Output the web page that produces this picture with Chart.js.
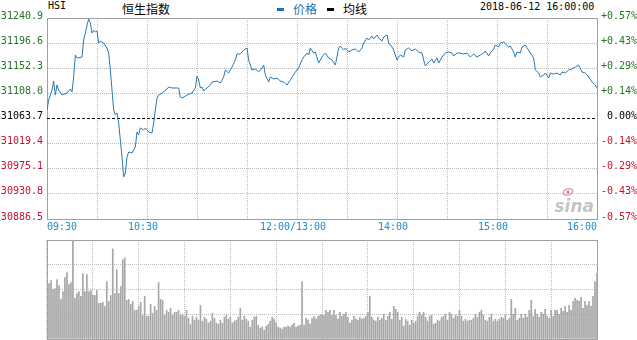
<!DOCTYPE html>
<html><head><meta charset="utf-8">
<script src="https://cdn.jsdelivr.net/npm/chart.js@4/dist/chart.umd.min.js"></script>
<style>
html,body{margin:0;padding:0;background:#fff;width:637px;height:340px;overflow:hidden;}
#wrap{position:relative;width:637px;height:340px;}
canvas{position:absolute;left:0;}
.t{position:absolute;white-space:nowrap;line-height:1;}
.mono{font-family:"DejaVu Sans Mono","Liberation Mono",monospace;font-size:10px;}
.cjk{font-family:"Noto Sans CJK SC",sans-serif;font-size:12px;}
</style></head><body>
<div id="wrap">
  <div class="t mono" style="left:48px;top:1px;color:#000">HSI</div>
  <div class="t cjk" style="left:122px;top:3px;color:#000">恒生指数</div>
  <div style="position:absolute;left:277px;top:8px;width:7px;height:3px;background:#1e6fb5"></div>
  <div class="t cjk" style="left:293px;top:3px;color:#1e6fb5">价格</div>
  <div style="position:absolute;left:327px;top:8px;width:7px;height:3px;background:#000"></div>
  <div class="t cjk" style="left:343px;top:3px;color:#000">均线</div>
  <div class="t mono" style="left:480px;top:2px;color:#000">2018-06-12 16:00:00</div>
  <canvas id="c1" width="637" height="236" style="top:0"></canvas>
  <canvas id="c2" width="637" height="104" style="top:236px"></canvas>
</div>
<script>
// ---- data ----
const prevClose = 31063.7;
const yTicks = [31240.9, 31196.6, 31152.3, 31108.0, 31063.7, 31019.4, 30975.1, 30930.8, 30886.5];
const gridMinutes = [0, 30, 60, 90, 120, 150, 180, 210, 240, 270, 300, 330];
const xLabelMinutes = [0, 60, 150, 210, 270, 330];
const xLabels = ['09:30', '10:30', '12:00/13:00', '14:00', '15:00', '16:00'];

const minutes = [0,1,3,4,5,6,7,9,12,14,15,16,17,18,21,22,23,24,25,26,27,28,29,30,31,32,34,36,37,38,39,40,41,42,43,44,45,46,47,48,49,51,53,54,55,56,58,59,61,63,64,65,66,67,69,72,73,75,79,80,81,84,87,89,90,91,92,93,94,96,98,99,102,104,106,107,109,111,113,114,116,118,120,121,123,125,127,129,130,131,133,134,136,138,140,142,144,146,149,151,153,154,156,157,158,160,161,163,165,167,169,171,173,174,175,176,178,179,181,183,185,187,189,190,192,193,195,196,198,199,201,202,204,205,207,208,210,211,212,214,215,217,219,221,223,225,226,227,229,231,232,234,235,237,239,241,243,244,246,248,250,252,254,256,258,260,262,263,265,266,268,269,271,272,274,275,277,278,280,281,282,284,285,287,288,290,292,293,295,296,298,299,301,302,304,306,308,309,311,313,315,317,319,321,323,325,327,329,330];
const prices = [31078.7,31096.3,31113.9,31129.8,31105.1,31122.8,31113.9,31105.1,31108.7,31115.7,31110.4,31136.9,31175.7,31170.4,31172.1,31202.1,31214.4,31228.5,31239.1,31232.1,31214.4,31219.7,31216.2,31218.0,31196.8,31200.3,31196.8,31188.0,31179.2,31149.2,31113.9,31078.7,31069.9,31073.4,31055.8,31025.8,30995.8,30960.6,30967.6,30995.8,31004.6,31002.9,31013.5,31039.9,31034.6,31047.0,31043.4,31047.0,31039.9,31038.1,31055.8,31078.7,31099.8,31105.1,31108.7,31115.7,31119.2,31117.5,31117.5,31101.6,31099.8,31105.1,31108.7,31117.5,31138.6,31131.6,31117.5,31119.2,31112.2,31117.5,31122.8,31128.0,31129.8,31126.3,31136.9,31149.2,31143.9,31154.5,31166.8,31177.4,31177.4,31184.5,31188.0,31166.8,31149.2,31151.0,31145.7,31152.7,31158.0,31140.4,31128.0,31136.9,31133.3,31135.1,31129.8,31128.0,31122.8,31131.6,31145.7,31152.7,31166.8,31172.1,31179.2,31175.7,31188.0,31179.2,31180.9,31161.5,31172.1,31179.2,31170.4,31166.8,31158.0,31172.1,31188.0,31191.5,31184.5,31188.0,31180.9,31184.5,31186.2,31180.9,31188.0,31196.8,31205.6,31202.1,31209.1,31203.9,31210.9,31205.6,31200.3,31207.4,31210.9,31196.8,31189.8,31184.5,31166.8,31172.1,31175.7,31172.1,31184.5,31188.0,31182.7,31186.2,31180.9,31179.2,31166.8,31156.3,31163.3,31168.6,31161.5,31170.4,31161.5,31172.1,31179.2,31180.9,31179.2,31173.9,31179.2,31179.2,31177.4,31179.2,31172.1,31177.4,31172.1,31175.7,31179.2,31182.7,31173.9,31179.2,31186.2,31193.3,31189.8,31196.8,31198.6,31195.0,31189.8,31191.5,31180.9,31172.1,31180.9,31179.2,31189.8,31193.3,31188.0,31179.2,31170.4,31149.2,31143.9,31136.9,31140.4,31143.9,31135.1,31143.9,31142.2,31143.9,31140.4,31145.7,31143.9,31149.2,31151.0,31154.5,31158.0,31145.7,31143.9,31136.9,31128.0,31122.8,31117.5];

const volumes = [71,56,59,50,51,60,54,40,48,62,67,55,57,100,41,46,48,43,66,48,65,48,49,44,44,49,36,36,37,33,58,38,44,91,46,70,46,53,80,82,39,40,35,38,29,29,33,37,24,43,23,23,35,26,33,29,57,40,39,24,29,27,31,24,27,27,29,24,25,23,29,21,15,23,19,22,19,34,18,22,20,16,18,26,21,16,15,19,16,22,24,20,22,16,18,19,22,31,19,23,20,18,12,19,22,23,14,11,12,9,13,15,18,22,20,16,12,11,10,12,12,13,12,14,16,12,13,14,58,14,21,19,15,21,23,20,23,24,25,24,29,27,29,24,29,24,20,27,23,25,27,22,16,19,23,20,19,22,20,21,23,27,43,22,19,18,22,19,21,25,19,23,27,20,33,30,27,19,22,13,20,18,14,19,16,18,23,27,24,27,22,18,23,24,15,16,19,18,22,23,25,19,27,25,21,24,23,29,23,18,20,18,19,19,21,25,22,27,29,24,19,18,22,25,18,20,18,20,22,21,24,19,21,40,25,31,19,21,25,21,25,22,29,39,23,30,25,22,27,25,30,23,21,29,23,29,29,25,31,28,33,27,34,29,38,41,39,38,42,31,38,34,38,33,43,58,66];

// ---- styles ----
const MONO = "'DejaVu Sans Mono','Liberation Mono',monospace";
const LINE = '#2a78b4';
const GRID = '#bdbdbd';
const BORDER = '#a0a0a0';
const GREEN = '#267326';
const RED = '#c8102e';
const BLUE = '#1f8dc4';

const tickColor = (v) => Math.abs(v - prevClose) < 0.01 ? '#000' : (v > prevClose ? GREEN : RED);
const setTicks = (s) => { s.ticks = yTicks.map(v => ({ value: v })); };
const setGridTicks = (s) => { s.ticks = gridMinutes.map(v => ({ value: v })); };

const xLabelPlugin = {
  id: 'xLabels',
  afterDraw(chart) {
    const { ctx, chartArea } = chart;
    const sx = chart.scales.x;
    ctx.save();
    ctx.font = '10px ' + MONO;
    ctx.fillStyle = BLUE;
    ctx.textBaseline = 'middle';
    const y = chartArea.bottom + 8;
    xLabelMinutes.forEach((m, i) => {
      const px = sx.getPixelForValue(m);
      if (i === 0) { ctx.textAlign = 'left'; ctx.fillText(xLabels[i], px, y); }
      else if (i === xLabelMinutes.length - 1) { ctx.textAlign = 'right'; ctx.fillText(xLabels[i], px, y); }
      else { ctx.textAlign = 'center'; ctx.fillText(xLabels[i], px - 4, y); }
    });
    ctx.restore();
  }
};

const watermark = {
  id: 'watermark',
  beforeDatasetsDraw(chart) {
    const { ctx, chartArea } = chart;
    ctx.save();
    const rx = chartArea.right - 3, by = chartArea.bottom - 7;
    ctx.font = 'italic bold 17px "DejaVu Sans",sans-serif';
    ctx.fillStyle = '#c4c4c4';
    ctx.textAlign = 'right';
    ctx.textBaseline = 'alphabetic';
    ctx.fillText('sina', rx, by);
    ctx.strokeStyle = '#e8a0a8';
    ctx.lineWidth = 1.5;
    ctx.beginPath();
    ctx.ellipse(rx - 26, by - 20, 5, 3, -0.3, 0, Math.PI * 2);
    ctx.stroke();
    ctx.fillStyle = '#e07080';
    ctx.beginPath();
    ctx.arc(rx - 26, by - 20, 1.5, 0, Math.PI * 2);
    ctx.fill();
    ctx.restore();
  }
};

new Chart(document.getElementById('c1'), {
  type: 'line',
  data: {
    datasets: [
      { label: '价格', data: minutes.map((m, i) => ({ x: m, y: prices[i] })), borderColor: LINE, borderWidth: 1, pointRadius: 0, tension: 0, xAxisID: 'x', yAxisID: 'y' },
      { label: '昨收', data: [{ x: 0, y: prevClose }, { x: 330, y: prevClose }], borderColor: '#000', borderWidth: 1, borderDash: [3, 2], pointRadius: 0, xAxisID: 'x', yAxisID: 'y' }
    ]
  },
  options: {
    animation: false, responsive: false, devicePixelRatio: 1,
    layout: { padding: { top: 18, bottom: 17, left: 0, right: 0 } },
    plugins: { legend: { display: false }, tooltip: { enabled: false } },
    scales: {
      x: { type: 'linear', position: 'bottom', min: 0, max: 330, afterBuildTicks: setGridTicks,
           ticks: { display: false }, grid: { color: GRID, drawTicks: false, tickLength: 0 },
           border: { display: true, color: BORDER, dash: [1, 1] }, afterFit: s => { s.height = 0; } },
      xTop: { type: 'linear', position: 'top', min: 0, max: 330, ticks: { display: false },
           grid: { display: false, drawTicks: false }, border: { display: true, color: BORDER }, afterFit: s => { s.height = 0; } },
      y: { type: 'linear', position: 'left', min: 30886.5, max: 31240.9, afterBuildTicks: setTicks,
           ticks: { font: { family: MONO, size: 10 }, color: c => tickColor(c.tick.value), padding: 4, labelOffset: -2,
                    callback: v => v.toFixed(1) },
           grid: { color: c => (c.tick && Math.abs(c.tick.value - prevClose) < 0.01) ? 'rgba(0,0,0,0)' : GRID, drawTicks: false, tickLength: 0 },
           border: { display: true, color: BORDER, dash: [1, 1] }, afterFit: s => { s.width = 47; } },
      yR: { type: 'linear', position: 'right', min: 30886.5, max: 31240.9, afterBuildTicks: setTicks,
           ticks: { font: { family: MONO, size: 10 }, color: c => tickColor(c.tick.value), padding: 2, labelOffset: -2, crossAlign: 'far',
                    callback: v => { const p = (v - prevClose) / prevClose * 100; const s = p.toFixed(2); return Math.abs(p) < 0.005 ? '0.00%' : (p > 0 ? '+' + s + '%' : s + '%'); } },
           grid: { display: false, drawTicks: false, tickLength: 0 },
           border: { display: true, color: BORDER }, afterFit: s => { s.width = 40; } }
    }
  },
  plugins: [xLabelPlugin, watermark]
});

new Chart(document.getElementById('c2'), {
  type: 'bar',
  data: {
    labels: volumes.map((_, i) => i),
    datasets: [{ label: '成交量', data: volumes, backgroundColor: '#a6a6a6', barThickness: 1, xAxisID: 'x', yAxisID: 'y' }]
  },
  options: {
    animation: false, responsive: false, devicePixelRatio: 1,
    layout: { padding: { top: 4, bottom: 1, left: 0, right: 0 } },
    plugins: { legend: { display: false }, tooltip: { enabled: false } },
    scales: {
      x: { type: 'category', offset: false, display: false },
      xg: { type: 'linear', position: 'bottom', min: 0, max: 330, afterBuildTicks: setGridTicks,
            ticks: { display: false }, grid: { color: GRID, drawTicks: false, tickLength: 0 },
            border: { display: true, color: BORDER, dash: [1, 1] }, afterFit: s => { s.height = 0; } },
      xt: { type: 'linear', position: 'top', min: 0, max: 330, ticks: { display: false },
            grid: { display: false, drawTicks: false }, border: { display: true, color: BORDER }, afterFit: s => { s.height = 0; } },
      y: { type: 'linear', position: 'left', min: 0, max: 100, ticks: { display: false, stepSize: 25 },
           grid: { color: GRID, drawTicks: false, tickLength: 0 },
           border: { display: true, color: BORDER, dash: [1, 1] }, afterFit: s => { s.width = 47; } },
      yr: { type: 'linear', position: 'right', min: 0, max: 100, ticks: { display: false },
            grid: { display: false, drawTicks: false }, border: { display: true, color: BORDER }, afterFit: s => { s.width = 40; } }
    }
  }
});
</script>
</body></html>
